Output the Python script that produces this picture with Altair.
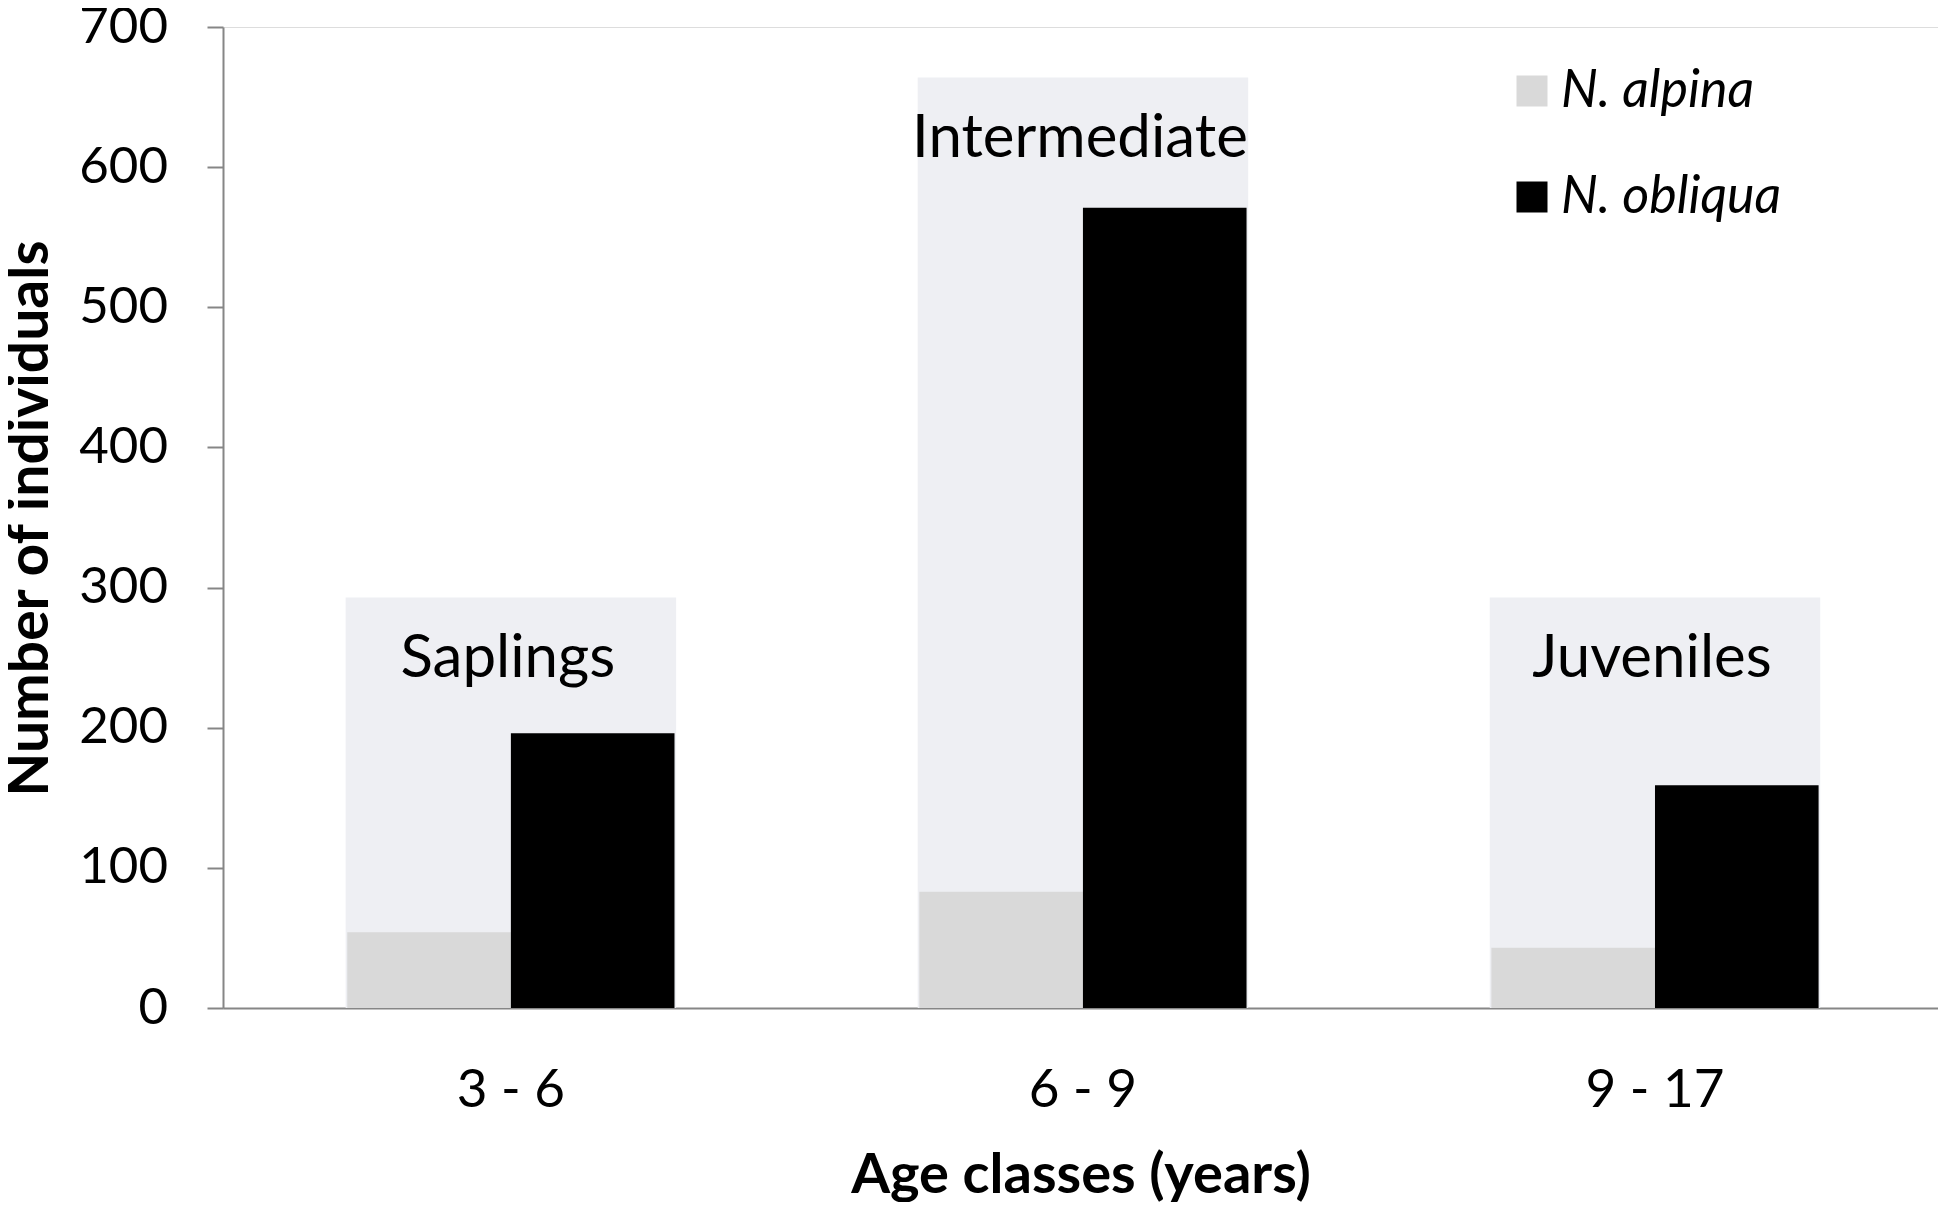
import altair as alt
import pandas as pd

categories = ["3 - 6", "6 - 9", "9 - 17"]
stages = ["Saplings", "Intermediate", "Juveniles"]
stage_extent = [293, 664, 293]
species = ["N. alpina", "N. obliqua"]
alpina = [54, 83, 43]
obliqua = [196, 571, 159]

bars = pd.DataFrame({
    "cat": categories * 2,
    "species": [species[0]] * 3 + [species[1]] * 3,
    "value": alpina + obliqua,
})
bg = pd.DataFrame({"cat": categories, "stage": stages, "extent": stage_extent})

FONT = "Lato"
AXIS_GREY = "#868686"

x_scale = alt.Scale(domain=categories, paddingInner=0.428, paddingOuter=0.213, align=0.51)
y_scale = alt.Scale(domain=[0, 700], nice=False)

x_enc = alt.X(
    "cat:N", sort=categories, scale=x_scale,
    axis=alt.Axis(
        title="Age classes (years)", labelAngle=0, ticks=False, tickSize=0,
        domainColor=AXIS_GREY, domainWidth=2, labelFont=FONT, labelFontSize=53,
        labelColor="#000000", labelPadding=98, labelBaseline="alphabetic",
        titleFont=FONT, titleFontSize=56, titleFontWeight="bold", titleColor="#000000",
        titleBaseline="alphabetic", titleY=184, grid=False,
    ),
)
y_axis = alt.Axis(
    title="Number of individuals", values=[0, 100, 200, 300, 400, 500, 600, 700],
    tickSize=16, tickColor=AXIS_GREY, tickWidth=2, domainColor=AXIS_GREY, domainWidth=2,
    labelFont=FONT, labelFontSize=51, labelColor="#000000", labelPadding=39.5,
    titleFont=FONT, titleFontSize=57, titleFontWeight="bold", titleColor="#000000",
    titleAngle=270, titleBaseline="alphabetic", titleAlign="center",
    titleX=-176, titleY=491, grid=False,
)

back = alt.Chart(bg).mark_bar(color="#EEEFF3", width=alt.RelativeBandSize(1.01)).encode(
    x=x_enc,
    y=alt.Y("extent:Q", scale=y_scale, axis=y_axis),
)

main = alt.Chart(bars).mark_bar().encode(
    x=x_enc,
    xOffset=alt.XOffset("species:N", sort=species, scale=alt.Scale(paddingInner=0, paddingOuter=0)),
    y=alt.Y("value:Q", scale=y_scale, axis=y_axis),
    color=alt.Color(
        "species:N", sort=species,
        scale=alt.Scale(domain=species, range=["#D9D9D9", "#000000"]),
        legend=alt.Legend(
            title=None, orient="none", legendX=1283, legendY=38,
            symbolType="square", symbolSize=961, symbolStrokeWidth=0,
            labelFont=FONT, labelFontSize=52, labelFontStyle="italic",
            labelColor="#000000", labelOffset=3, rowPadding=54, padding=0,
            labelLimit=400,
        ),
    ),
)

labels = alt.Chart(bg).mark_text(
    font=FONT, fontSize=60, color="#000000", baseline="alphabetic", align="center",
    dy=80, dx=-3,
).encode(
    x=x_enc,
    y=alt.Y("extent:Q", scale=y_scale, axis=y_axis),
    text="stage:N",
)

chart = alt.layer(back, main, labels).properties(
    width=1715, height=981,
    autosize=alt.AutoSizeParams(type="none"),
    padding={"left": 215, "top": 19, "right": 0, "bottom": 194},
).configure_view(stroke=None).configure(font=FONT)

chart.save("out.html", embed_options={"renderer": "svg", "actions": False})
